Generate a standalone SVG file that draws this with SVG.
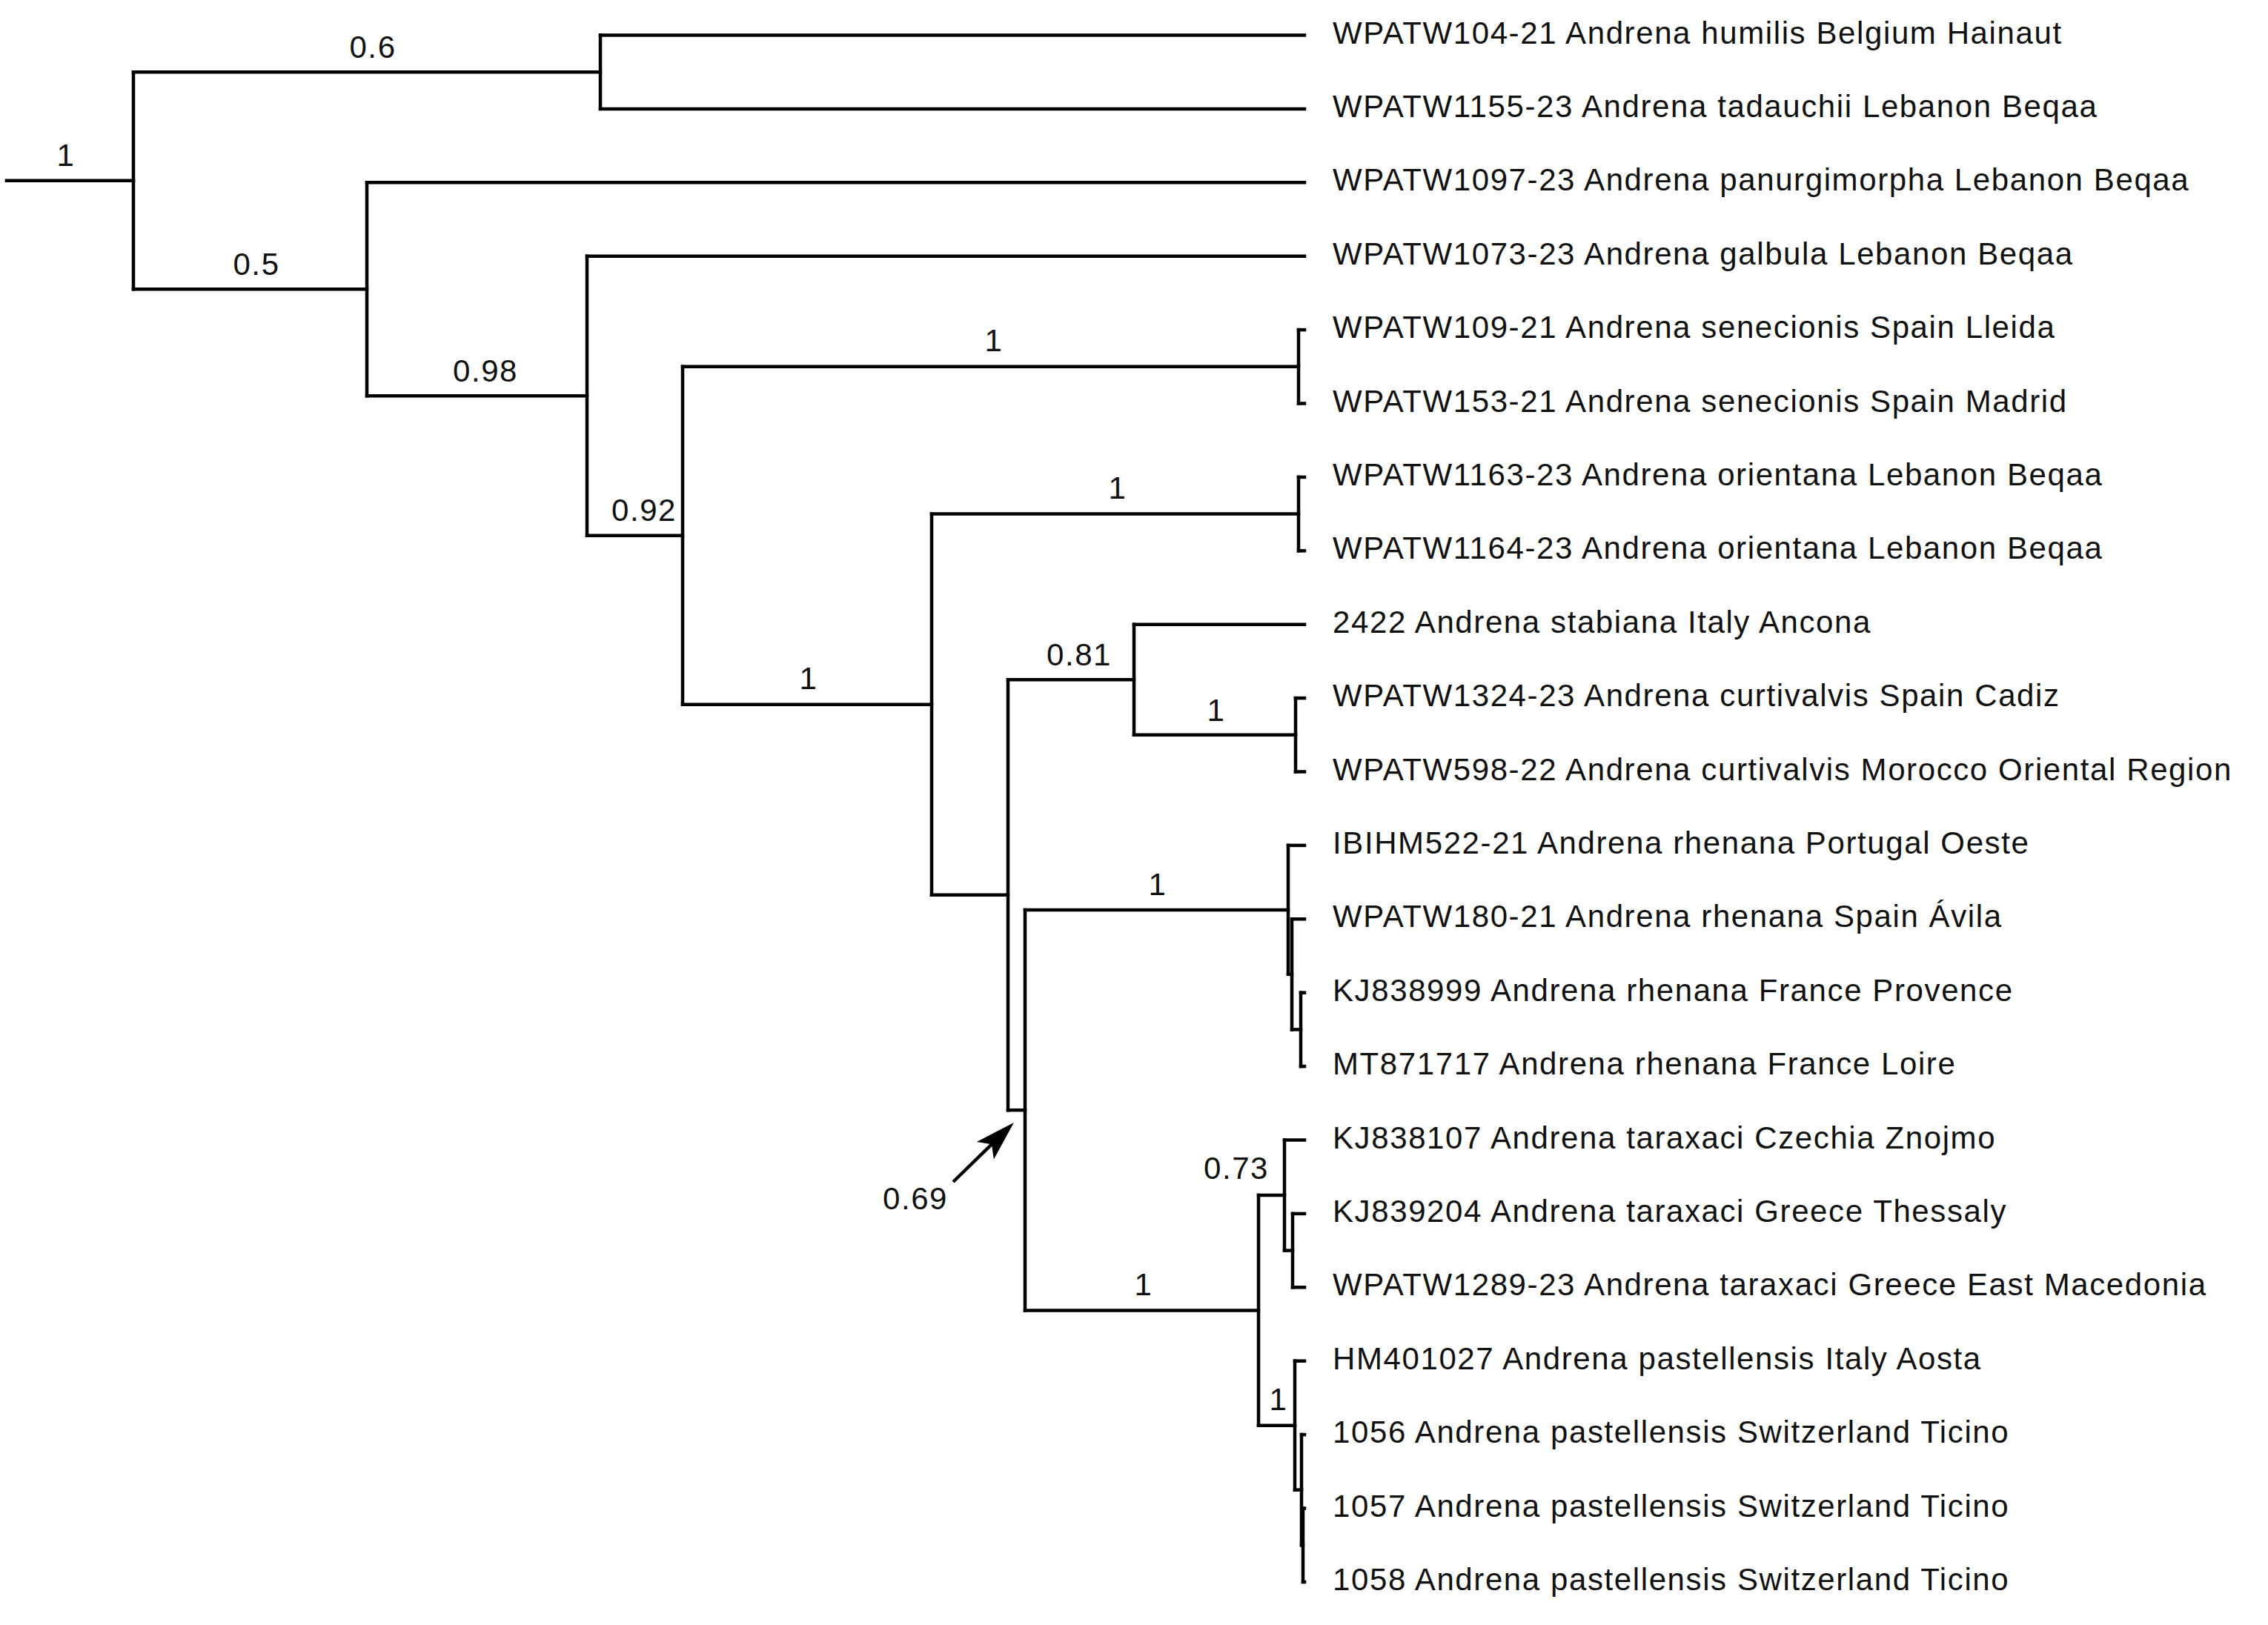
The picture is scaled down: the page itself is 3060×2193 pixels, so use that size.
<svg xmlns="http://www.w3.org/2000/svg" width="3060" height="2193" viewBox="0 0 3060 2193">
<style>
  .br { fill: none; stroke: #000; stroke-width: 4.5; stroke-linecap: square; stroke-linejoin: miter; }
  .lbl { font-family: "Liberation Sans", Arial, Helvetica, sans-serif; font-size: 42px; letter-spacing: 1.6px; fill: #111; }
  .sup { font-family: "Liberation Sans", Arial, Helvetica, sans-serif; font-size: 42px; letter-spacing: 1.6px; fill: #111; text-anchor: middle; }
</style>
<defs>
  <marker id="ah" markerUnits="userSpaceOnUse" viewBox="-58 -19 60 38" markerWidth="60" markerHeight="38" refX="-42" refY="0" orient="auto">
    <path d="M0,0 L-54,-16.5 L-42,0 L-54,16.5 Z" fill="#000"/>
  </marker>
</defs>
<rect width="3060" height="2193" fill="#fff"/>

<g id="connectors">
  <path class="br" d="M9 243.7 H180"/>
  <path class="br" d="M180 97.2 V390.25"/>
  <path class="br" d="M180 97.2 H810"/>
  <path class="br" d="M810 47.5 V146.9"/>
  <path class="br" d="M810 47.5 H1760"/>
  <path class="br" d="M810 146.9 H1760"/>
  <path class="br" d="M180 390.25 H495"/>
  <path class="br" d="M495 246.3 V534.2"/>
  <path class="br" d="M495 246.3 H1760"/>
  <path class="br" d="M495 534.2 H792"/>
  <path class="br" d="M792 345.7 V722.7"/>
  <path class="br" d="M792 345.7 H1760"/>
  <path class="br" d="M792 722.7 H921"/>
  <path class="br" d="M921 494.8 V950.65"/>
  <path class="br" d="M921 494.8 H1752"/>
  <path class="br" d="M1752 445.1 V544.5"/>
  <path class="br" d="M1752 445.1 H1760"/>
  <path class="br" d="M1752 544.5 H1760"/>
  <path class="br" d="M921 950.65 H1257"/>
  <path class="br" d="M1257 693.6 V1207.7"/>
  <path class="br" d="M1257 693.6 H1752"/>
  <path class="br" d="M1752 643.9 V743.3"/>
  <path class="br" d="M1752 643.9 H1760"/>
  <path class="br" d="M1752 743.3 H1760"/>
  <path class="br" d="M1257 1207.7 H1360"/>
  <path class="br" d="M1360 917.25 V1498.15"/>
  <path class="br" d="M1360 917.25 H1530"/>
  <path class="br" d="M1530 842.7 V991.8"/>
  <path class="br" d="M1530 842.7 H1760"/>
  <path class="br" d="M1530 991.8 H1748"/>
  <path class="br" d="M1748 942.1 V1041.5"/>
  <path class="br" d="M1748 942.1 H1760"/>
  <path class="br" d="M1748 1041.5 H1760"/>
  <path class="br" d="M1360 1498.15 H1383"/>
  <path class="br" d="M1383 1227.9 V1768.4"/>
  <path class="br" d="M1383 1227.9 H1738"/>
  <path class="br" d="M1738 1140.9 V1314.85"/>
  <path class="br" d="M1738 1140.9 H1760"/>
  <path class="br" d="M1738 1314.85 H1743"/>
  <path class="br" d="M1743 1240.3 V1389.4"/>
  <path class="br" d="M1743 1240.3 H1760"/>
  <path class="br" d="M1743 1389.4 H1755"/>
  <path class="br" d="M1755 1339.7 V1439.1"/>
  <path class="br" d="M1755 1339.7 H1760"/>
  <path class="br" d="M1755 1439.1 H1760"/>
  <path class="br" d="M1383 1768.4 H1698"/>
  <path class="br" d="M1698 1613.05 V1923.7"/>
  <path class="br" d="M1698 1613.05 H1733"/>
  <path class="br" d="M1733 1538.5 V1687.6"/>
  <path class="br" d="M1733 1538.5 H1760"/>
  <path class="br" d="M1733 1687.6 H1744"/>
  <path class="br" d="M1744 1637.9 V1737.3"/>
  <path class="br" d="M1744 1637.9 H1760"/>
  <path class="br" d="M1744 1737.3 H1760"/>
  <path class="br" d="M1698 1923.7 H1747"/>
  <path class="br" d="M1747 1836.7 V2010.65"/>
  <path class="br" d="M1747 1836.7 H1760"/>
  <path class="br" d="M1747 2010.65 H1756"/>
  <path class="br" d="M1756 1936.1 V2085.2"/>
  <path class="br" d="M1756 1936.1 H1760"/>
  <path class="br" d="M1756 2085.2 H1758"/>
  <path class="br" d="M1758 2035.5 V2134.9"/>
  <path class="br" d="M1758 2035.5 H1760"/>
  <path class="br" d="M1758 2134.9 H1760"/>
  <line x1="1286" y1="1595" x2="1337.9" y2="1544.3" stroke="#000" stroke-width="4.5" marker-end="url(#ah)"/>
</g>

<g id="support-labels">
  <text class="sup" x="89" y="224">1</text>
  <text class="sup" x="503" y="78">0.6</text>
  <text class="sup" x="346" y="371">0.5</text>
  <text class="sup" x="655" y="515">0.98</text>
  <text class="sup" x="869" y="703">0.92</text>
  <text class="sup" x="1341" y="474">1</text>
  <text class="sup" x="1508" y="673">1</text>
  <text class="sup" x="1091" y="930">1</text>
  <text class="sup" x="1456" y="898">0.81</text>
  <text class="sup" x="1641" y="973">1</text>
  <text class="sup" x="1562" y="1208">1</text>
  <text class="sup" x="1235" y="1632">0.69</text>
  <text class="sup" x="1668" y="1591">0.73</text>
  <text class="sup" x="1543" y="1748">1</text>
  <text class="sup" x="1725" y="1903">1</text>
</g>

<g id="leaf-0"><text class="lbl" x="1798" y="58.5">WPATW104-21 Andrena humilis Belgium Hainaut</text></g>
<g id="leaf-1"><text class="lbl" x="1798" y="157.9">WPATW1155-23 Andrena tadauchii Lebanon Beqaa</text></g>
<g id="leaf-2"><text class="lbl" x="1798" y="257.3">WPATW1097-23 Andrena panurgimorpha Lebanon Beqaa</text></g>
<g id="leaf-3"><text class="lbl" x="1798" y="356.7">WPATW1073-23 Andrena galbula Lebanon Beqaa</text></g>
<g id="leaf-4"><text class="lbl" x="1798" y="456.1">WPATW109-21 Andrena senecionis Spain Lleida</text></g>
<g id="leaf-5"><text class="lbl" x="1798" y="555.5">WPATW153-21 Andrena senecionis Spain Madrid</text></g>
<g id="leaf-6"><text class="lbl" x="1798" y="654.9">WPATW1163-23 Andrena orientana Lebanon Beqaa</text></g>
<g id="leaf-7"><text class="lbl" x="1798" y="754.3">WPATW1164-23 Andrena orientana Lebanon Beqaa</text></g>
<g id="leaf-8"><text class="lbl" x="1798" y="853.7">2422 Andrena stabiana Italy Ancona</text></g>
<g id="leaf-9"><text class="lbl" x="1798" y="953.1">WPATW1324-23 Andrena curtivalvis Spain Cadiz</text></g>
<g id="leaf-10"><text class="lbl" x="1798" y="1052.5">WPATW598-22 Andrena curtivalvis Morocco Oriental Region</text></g>
<g id="leaf-11"><text class="lbl" x="1798" y="1151.9">IBIHM522-21 Andrena rhenana Portugal Oeste</text></g>
<g id="leaf-12"><text class="lbl" x="1798" y="1251.3">WPATW180-21 Andrena rhenana Spain Ávila</text></g>
<g id="leaf-13"><text class="lbl" x="1798" y="1350.7">KJ838999 Andrena rhenana France Provence</text></g>
<g id="leaf-14"><text class="lbl" x="1798" y="1450.1">MT871717 Andrena rhenana France Loire</text></g>
<g id="leaf-15"><text class="lbl" x="1798" y="1549.5">KJ838107 Andrena taraxaci Czechia Znojmo</text></g>
<g id="leaf-16"><text class="lbl" x="1798" y="1648.9">KJ839204 Andrena taraxaci Greece Thessaly</text></g>
<g id="leaf-17"><text class="lbl" x="1798" y="1748.3">WPATW1289-23 Andrena taraxaci Greece East Macedonia</text></g>
<g id="leaf-18"><text class="lbl" x="1798" y="1847.7">HM401027 Andrena pastellensis Italy Aosta</text></g>
<g id="leaf-19"><text class="lbl" x="1798" y="1947.1">1056 Andrena pastellensis Switzerland Ticino</text></g>
<g id="leaf-20"><text class="lbl" x="1798" y="2046.5">1057 Andrena pastellensis Switzerland Ticino</text></g>
<g id="leaf-21"><text class="lbl" x="1798" y="2145.9">1058 Andrena pastellensis Switzerland Ticino</text></g>
</svg>
